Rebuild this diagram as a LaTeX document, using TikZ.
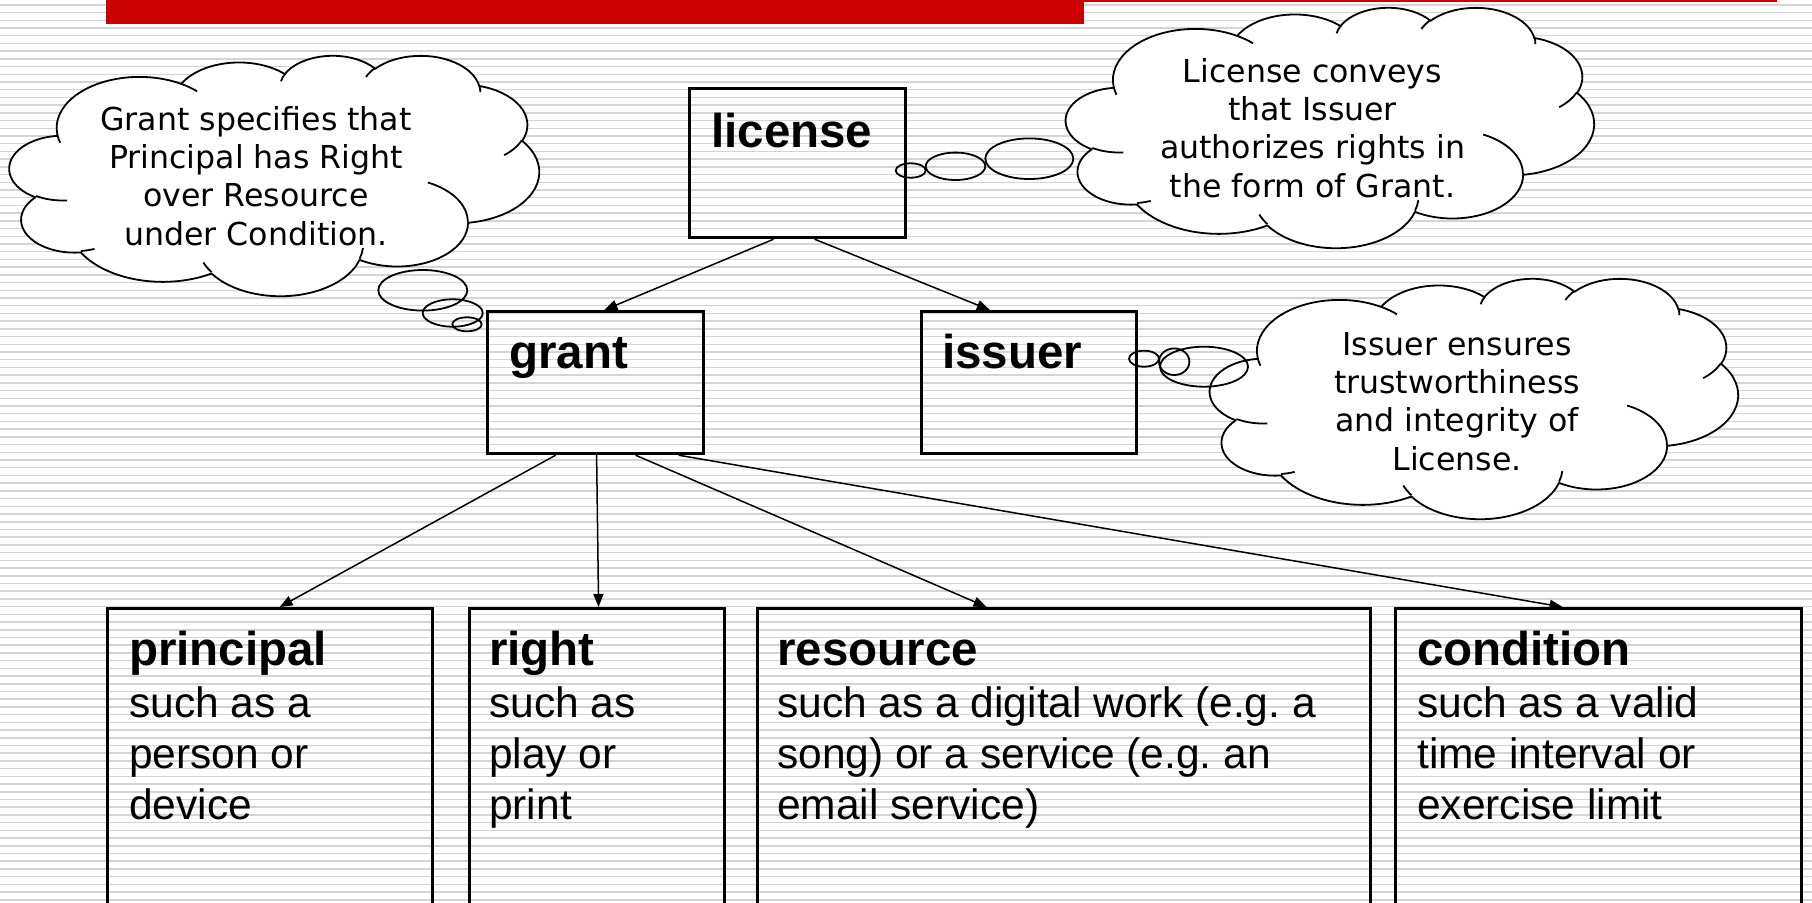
\documentclass[tikz,border=0pt]{standalone}
\usepackage{fontspec}
\setmainfont{Liberation Sans}
\newfontfamily\cloudfamily{DejaVu Sans}
\usetikzlibrary{arrows.meta}
\definecolor{barred}{RGB}{204,0,0}
\frenchspacing
\makeatletter
\newcommand\mkcloudarc[5]{%
  \pgfmathsetmacro\cl@ts{atan2(sin(#4)/#3,cos(#4)/#2)}%
  \pgfmathsetmacro\cl@te{atan2(sin(#4+#5)/#3,cos(#4+#5)/#2)}%
  \pgfmathsetmacro\cl@d{mod(\cl@te-\cl@ts+720,360)}%
  \expandafter\xdef\csname cloudarc#1\endcsname{arc[start angle=\cl@ts,delta angle=\cl@d,x radius=#2,y radius=#3]}%
}
\makeatother
% outline arcs
\mkcloudarc{oA}{15.632}{21.273}{-190.4875}{123.7805}
\mkcloudarc{oB}{12.345}{16.822}{-144.1024}{89.9452}
\mkcloudarc{oC}{10.104}{13.762}{-145.8079}{99.7230}
\mkcloudarc{oD}{11.243}{15.266}{-130.9861}{117.2417}
\mkcloudarc{oE}{12.345}{16.836}{-78.7089}{109.0269}
\mkcloudarc{oF}{15.683}{21.343}{-46.2673}{130.2690}
\mkcloudarc{oG}{13.391}{18.211}{0.6250}{114.0333}
\mkcloudarc{oH}{15.630}{21.331}{22.4516}{115.1726}
\mkcloudarc{oI}{17.870}{24.405}{66.2426}{75.7110}
\mkcloudarc{oJ}{10.093}{13.699}{-274.9421}{146.7356}
\mkcloudarc{oK}{10.058}{13.762}{-246.8285}{152.5189}
% inner arcs
\mkcloudarc{iA}{10.058}{13.762}{86.7420}{26.4295}
\mkcloudarc{iB}{10.093}{13.699}{73.6105}{11.4475}
\mkcloudarc{iC}{15.630}{21.331}{137.6242}{14.0811}
\mkcloudarc{iD}{15.630}{21.331}{6.4533}{15.9984}
\mkcloudarc{iE}{13.391}{18.211}{-70.2924}{70.9174}
\mkcloudarc{iF}{12.345}{16.836}{30.3180}{27.7515}
\mkcloudarc{iG}{11.243}{15.266}{-13.7443}{14.8589}
\mkcloudarc{iH}{11.243}{15.266}{-149.1815}{18.1954}
\mkcloudarc{iI}{10.104}{13.762}{-163.4943}{17.6864}
\mkcloudarc{iJ}{15.632}{21.273}{-66.7070}{12.3194}
\mkcloudarc{iK}{15.632}{21.273}{157.6544}{11.8582}
\def\cloudoutline{(9.028,33.264) \cloudarcoA \cloudarcoB \cloudarcoC \cloudarcoD \cloudarcoE \cloudarcoF \cloudarcoG \cloudarcoH \cloudarcoI \cloudarcoJ \cloudarcoK -- cycle}
\def\cloudinner{(10.863,60.595) \cloudarciA (16.037,80.785) \cloudarciB (38.144,90.486) \cloudarciC (66.729,80.442) \cloudarciD (79.002,53.134) \cloudarciE (96.755,35.542) \cloudarciF (88.713,12.560) \cloudarciG (67.310,9.148) \cloudarciH (51.252,10.926) \cloudarciI (32.407,12.019) \cloudarciJ (9.553,36.549) \cloudarciK}
\tikzset{
  boxline/.style={draw=black, line width=3.2pt, inner sep=0pt, anchor=north west},
  titletext/.style={font=\fontsize{47.5}{57}\selectfont\bfseries, inner sep=0pt, anchor=base west},
  bodytext/.style={font=\fontsize{42.5}{51}\selectfont\frenchspacing, align=left, inner sep=0pt, anchor=north west},
  cloudtext/.style={font=\cloudfamily\fontsize{31.6}{38.3}\selectfont, align=center, inner sep=0pt, anchor=north},
  cloudline/.style={draw=black, line width=1.8pt, line join=round},
  conn/.style={draw=black, line width=1.5pt, -{Triangle[length=13pt,width=10pt]}},
  stripe/.style={draw=black!17, line width=1.5pt},
  cloudshape/.style={cloudline, fill=white},
}
\begin{document}
\begin{tikzpicture}[x=1pt, y=1pt]
\path[use as bounding box] (0,0) rectangle (1812,-902);
\clip (0,0) rectangle (1812,-902);
\fill[white] (0,0) rectangle (1812,-902);
% background stripes
\foreach \k in {0,...,116} {
  \draw[stripe] (0,{-4.84-7.715*\k}) -- (1812,{-4.84-7.715*\k});
}
% red title bar
\fill[barred] (106,0) rectangle (1084,-24);
\fill[barred] (1084,0) rectangle (1777,-1.6);

% boxes
\node[boxline, minimum width=216pt, minimum height=149pt] (license) at (688,-87) {};
\node[boxline, minimum width=216.5pt, minimum height=142pt] (grant) at (485.5,-310) {};
\node[boxline, minimum width=215.5pt, minimum height=142pt] (issuer) at (919.5,-310) {};
\node[boxline, minimum width=325pt, minimum height=320pt] (principal) at (106,-607) {};
\node[boxline, minimum width=255pt, minimum height=320pt] (right) at (467.5,-607) {};
\node[boxline, minimum width=613pt, minimum height=320pt] (resource) at (755.5,-607) {};
\node[boxline, minimum width=406.5pt, minimum height=320pt] (condition) at (1393.5,-607) {};

% box texts
\node[titletext] (licenseT) at (711,-147) {license};
\node[titletext] (grantT) at (509,-368) {grant};
\node[titletext] (issuerT) at (942,-368) {issuer};
\node[titletext] (principalT) at (129,-665) {principal};
\node[titletext] (rightT) at (489,-665) {right};
\node[titletext] (resourceT) at (777,-665) {resource};
\node[titletext] (conditionT) at (1417,-665) {condition};
\node[bodytext] (principalB) at (129,-681.3) {\strut such as a\\\strut person or\\\strut device};
\node[bodytext] (rightB) at (489,-681.3) {\strut such as\\\strut play or\\\strut print};
\node[bodytext] (resourceB) at (777,-681.3) {\strut such as a digital work (e.g. a\\\strut song) or a service (e.g. an\\\strut email service)};
\node[bodytext] (conditionB) at (1417,-681.3) {\strut such as a valid\\\strut time interval or\\\strut exercise limit};

% connectors
\draw[conn] ([xshift=-24pt]license.south) -- ([xshift=9pt]grant.north);
\draw[conn] ([xshift=17pt]license.south) -- ([xshift=-39pt]issuer.north);
\draw[conn] ([xshift=-39.75pt]grant.south) -- ([xshift=9.5pt]principal.north);
\draw[conn] ([xshift=1.25pt]grant.south) -- ([xshift=2pt]right.north);
\draw[conn] ([xshift=40.25pt]grant.south) -- ([xshift=-77pt]resource.north);
\draw[conn] ([xshift=83.25pt]grant.south) -- ([xshift=-35.75pt]condition.north);

% clouds
\begin{scope}[shift={(9.6,-55)}, xscale=5.295, yscale=-2.4]
  \path[cloudshape] \cloudoutline;
  \path[cloudline] \cloudinner;
\end{scope}
\begin{scope}[shift={(1066,-7)}, xscale=5.28, yscale=-2.4]
  \path[cloudshape] \cloudoutline;
  \path[cloudline] \cloudinner;
\end{scope}
\begin{scope}[shift={(1210,-278)}, xscale=5.28, yscale=-2.4]
  \path[cloudshape] \cloudoutline;
  \path[cloudline] \cloudinner;
\end{scope}

% thought bubbles
\draw[cloudline] (910.7,-170.5) ellipse [x radius=15, y radius=7.2];
\draw[cloudline] (955.5,-166.3) ellipse [x radius=29.8, y radius=13.7];
\draw[cloudline] (1029.3,-158.7) ellipse [x radius=44, y radius=20.3];
\draw[cloudline] (422.8,-290.3) ellipse [x radius=44.5, y radius=20.3];
\draw[cloudline] (452.7,-313) ellipse [x radius=30, y radius=13.7];
\draw[cloudline] (467,-324.3) ellipse [x radius=14.7, y radius=7];
\draw[cloudline] (1144,-358.7) ellipse [x radius=15, y radius=8];
\draw[cloudline] (1174.2,-361.7) ellipse [x radius=15.2, y radius=13.3];
\draw[cloudline] (1204,-366.7) ellipse [x radius=44, y radius=20];

% cloud texts
\node[cloudtext] (grantnote) at (256,-103.19) {\strut Grant specifies that\\\strut Principal has Right\\\strut over Resource\\\strut under Condition.};
\node[cloudtext] (licensenote) at (1312.5,-55.19) {\strut License conveys\\\strut that Issuer\\\strut authorizes rights in\\\strut the form of Grant.};
\node[cloudtext] (issuernote) at (1457,-328.19) {\strut Issuer ensures\\\strut trustworthiness\\\strut and integrity of\\\strut License.};
\end{tikzpicture}
\end{document}
